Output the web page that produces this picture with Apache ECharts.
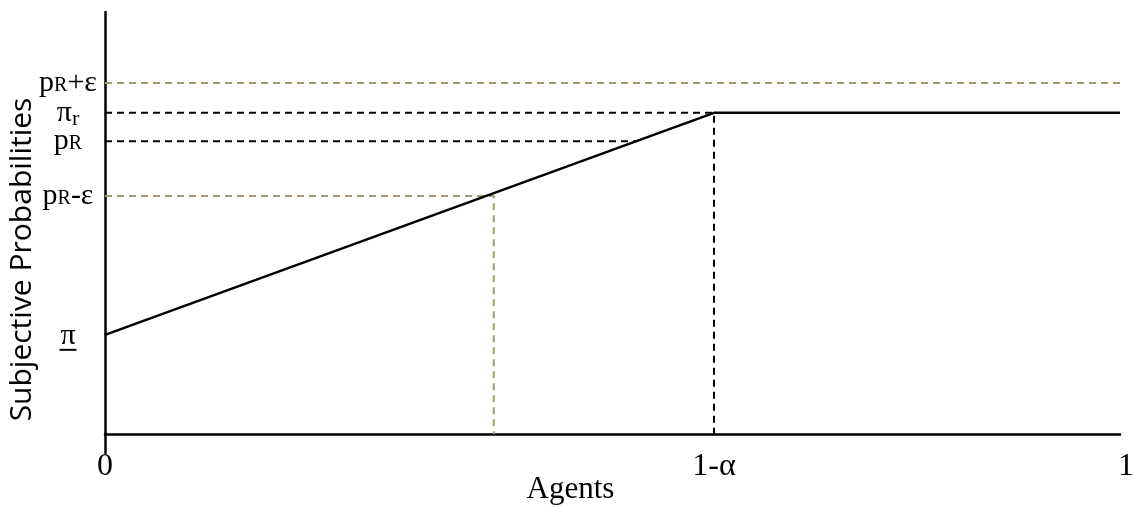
<!DOCTYPE html>
<html>
<head>
    <meta charset="utf-8">
    <title>Subjective Probabilities</title>
    <script src="https://cdn.jsdelivr.net/npm/echarts@6/dist/echarts.min.js"></script>
</head>
<body style="margin:0">
    <div id="main" style="width:1133px;height:508px;"></div>
    <script type="text/javascript">
        // x ticks (share of agents)
        var agentTicks = [0, 0.6, 1];
        var agentLabels = ['{t|0}', '{t|1-α}', '{end|1}'];

        // y levels
        var levelValues = [0.235, 0.564, 0.694, 0.761, 0.832];
        var levelKeys = ['piLow', 'pRminus', 'pR', 'piR', 'pRplus'];

        // belief curve
        var beliefX = [0, 0.6, 1];
        var beliefY = [0.235, 0.761, 0.761];

        // guide lines (dashed)
        var tanGuides = [
            [[0, 0.832], [1, 0.832]],
            [[0, 0.564], [0.383, 0.564], [0.383, 0]]
        ];
        var blackGuides = [
            [[0, 0.761], [0.6, 0.761], [0.6, 0]],
            [[0, 0.694], [0.524, 0.694]]
        ];

        var serif = '"Liberation Serif", "DejaVu Serif", serif';

        var levelText = {
            piLow: '{pi|π}\n{ul|}',
            pRminus: '{p|p}{sc|R}{p|-ε}',
            pR: '{p|p}{sc|R}',
            piR: '{p|π}{sub|r}',
            pRplus: '{p|p}{sc|R}{p|+ε}'
        };

        var myChart = echarts.init(document.getElementById('main'));

        var series = [{
            type: 'line',
            symbol: 'none',
            z: 5,
            lineStyle: {color: '#000', width: 2.5},
            data: beliefX.map(function (x, i) { return [x, beliefY[i]]; })
        }];
        tanGuides.forEach(function (seg) {
            series.push({type: 'line', symbol: 'none', data: seg,
                lineStyle: {color: '#a29a6e', width: 2, type: [7, 5]}});
        });
        blackGuides.forEach(function (seg) {
            series.push({type: 'line', symbol: 'none', data: seg,
                lineStyle: {color: '#000', width: 2, type: [7, 5]}});
        });

        var option = {
            animation: false,
            grid: {left: 105, right: 13, top: 12, bottom: 55, outerBoundsMode: 'none'},
            xAxis: {
                type: 'value',
                min: 0,
                max: 1,
                name: 'Agents',
                nameLocation: 'middle',
                nameGap: 21,
                nameMoveOverlap: false,
                nameTextStyle: {fontFamily: serif, fontSize: 31, color: '#000', padding: [0, 84, 0, 0]},
                axisLine: {lineStyle: {color: '#000', width: 2.5}},
                axisTick: {show: false},
                splitLine: {show: false},
                axisLabel: {
                    customValues: agentTicks,
                    margin: -2,
                    color: '#000',
                    formatter: function (v) {
                        return agentLabels[agentTicks.indexOf(v)];
                    },
                    rich: {
                        t: {fontFamily: serif, fontSize: 32, color: '#000'},
                        end: {fontFamily: serif, fontSize: 32, color: '#000', padding: [0, 0, 0, 12]}
                    }
                }
            },
            yAxis: {
                type: 'value',
                min: -0.045,
                max: 1,
                name: 'Subjective Probabilities',
                nameLocation: 'middle',
                nameGap: 68,
                nameMoveOverlap: false,
                nameTextStyle: {fontFamily: '"Open Sans", sans-serif', fontSize: 30, color: '#000', padding: [0, 54, 0, 0]},
                axisLine: {lineStyle: {color: '#000', width: 2.5}},
                axisTick: {show: false},
                splitLine: {show: false},
                axisLabel: {
                    customValues: levelValues,
                    margin: 37,
                    align: 'center',
                    color: '#000',
                    fontFamily: serif,
                    formatter: function (v) {
                        return levelText[levelKeys[levelValues.indexOf(v)]];
                    },
                    rich: {
                        p: {fontFamily: serif, fontSize: 30, color: '#000', verticalAlign: 'bottom'},
                        sc: {fontFamily: serif, fontSize: 20, color: '#000', verticalAlign: 'bottom', padding: [0, 0, 2, 0]},
                        sub: {fontFamily: serif, fontSize: 22, color: '#000', verticalAlign: 'bottom', padding: [0, 0, -2, 0]},
                        pi: {fontFamily: serif, fontSize: 30, color: '#000', lineHeight: 30, padding: [8, 0, 0, 0]},
                        ul: {width: 17, height: 2, backgroundColor: '#000', lineHeight: 6}
                    }
                }
            },
            series: series
        };

        myChart.setOption(option);
    </script>
</body>
</html>
